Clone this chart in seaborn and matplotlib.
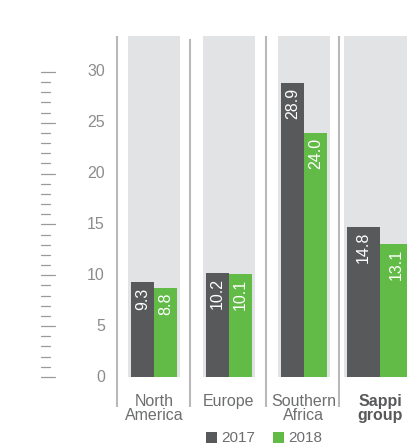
import matplotlib
matplotlib.use("Agg")
import matplotlib.pyplot as plt
from matplotlib.patches import Rectangle
import seaborn as sns
import pandas as pd

# ---- data ----
regions = ["North\nAmerica", "Europe", "Southern\nAfrica", "Sappi\ngroup"]
years = ["2017", "2018"]
values_2017 = [9.3, 10.2, 28.9, 14.8]
values_2018 = [8.8, 10.1, 24.0, 13.1]
yticks = [0, 5, 10, 15, 20, 25, 30]
ymax_bg = 33.5

sns.set_theme(style="white")
plt.rcParams["font.family"] = ["Liberation Sans", "DejaVu Sans"]

DARK = "#58595b"
GREEN = "#62bb46"
BG = "#e2e3e4"
SEP = "#b9b9b9"
TICK = "#9a9a9a"
TXT = "#6d6e70"

df = pd.DataFrame({
    "region": regions * 2,
    "year": [years[0]] * len(regions) + [years[1]] * len(regions),
    "value": values_2017 + values_2018,
})

fig = plt.figure(figsize=(4.07, 4.46), dpi=100)
ax = fig.add_axes([0, 0, 1, 1])

# pixel <-> data helpers (layout only)
X0, DX = 154.0, 74.95
Y0, DY = 377.0, 10.167
def ux(px):
    return (px - X0) / DX
def uy(py):
    return (Y0 - py) / DY

sns.barplot(data=df, x="region", y="value", hue="year", order=regions,
            hue_order=years, palette=[DARK, GREEN], width=0.614, gap=0,
            saturation=1, dodge=True, legend=False, ax=ax, zorder=2,
            linewidth=0, edgecolor="none")

# widen the Sappi group bars
c_sappi = ux(380)
w_sappi = 33 / DX
b17 = ax.containers[0][3]
b18 = ax.containers[1][3]
b17.set_x(c_sappi - w_sappi); b17.set_width(w_sappi)
b18.set_x(c_sappi); b18.set_width(w_sappi)

# background columns
for i in range(3):
    ax.add_patch(Rectangle((i - 0.347, 0), 0.694, ymax_bg, color=BG, zorder=0, lw=0))
ax.add_patch(Rectangle((ux(344), 0), ux(430) - ux(344), ymax_bg, color=BG, zorder=0, lw=0))

# value labels
for cont, vals in zip(ax.containers, [values_2017, values_2018]):
    for bar, v in zip(cont, vals):
        ax.text(bar.get_x() + bar.get_width() / 2, v - 5 / DY, f"{v:.1f}",
                rotation=90, ha="center", va="top", color="white",
                fontsize=11.5, zorder=3)

# separators
for px, top in [(117, 36), (190, 39), (266, 36), (339, 36)]:
    ax.plot([ux(px), ux(px)], [uy(top), uy(407)], color=SEP, lw=1.5, zorder=1,
            solid_capstyle="butt")

# left ruler
for v in range(0, 31):
    right = 55 if v % 5 == 0 else 50
    ax.plot([ux(41), ux(right)], [v, v], color=TICK, lw=0.9, zorder=1)
for v in yticks:
    ax.text(ux(105), v, str(v), ha="right", va="center", fontsize=11.5,
            color="#8c8c8c")

# category labels
centers = [0, 1, 2, c_sappi]
for i, (r, cx) in enumerate(zip(regions, centers)):
    bold = (i == len(regions) - 1)
    ax.text(cx, uy(394), r, ha="center", va="top", fontsize=11.5,
            linespacing=0.95, color=DARK if bold else TXT,
            fontweight="bold" if bold else "normal")

# legend
for (x0, col, lab) in [(206, DARK, years[0]), (273, GREEN, years[1])]:
    ax.add_patch(Rectangle((ux(x0), uy(443)), 10.5 / DX, 11 / DY, color=col, lw=0,
                           clip_on=False))
    ax.text(ux(x0 + 15), uy(437.5), lab, ha="left", va="center", fontsize=11,
            color=TXT)

ax.set_xlim(ux(0), ux(407))
ax.set_ylim(uy(446), uy(0))
ax.axis("off")

fig.savefig("out.png", dpi=100)
